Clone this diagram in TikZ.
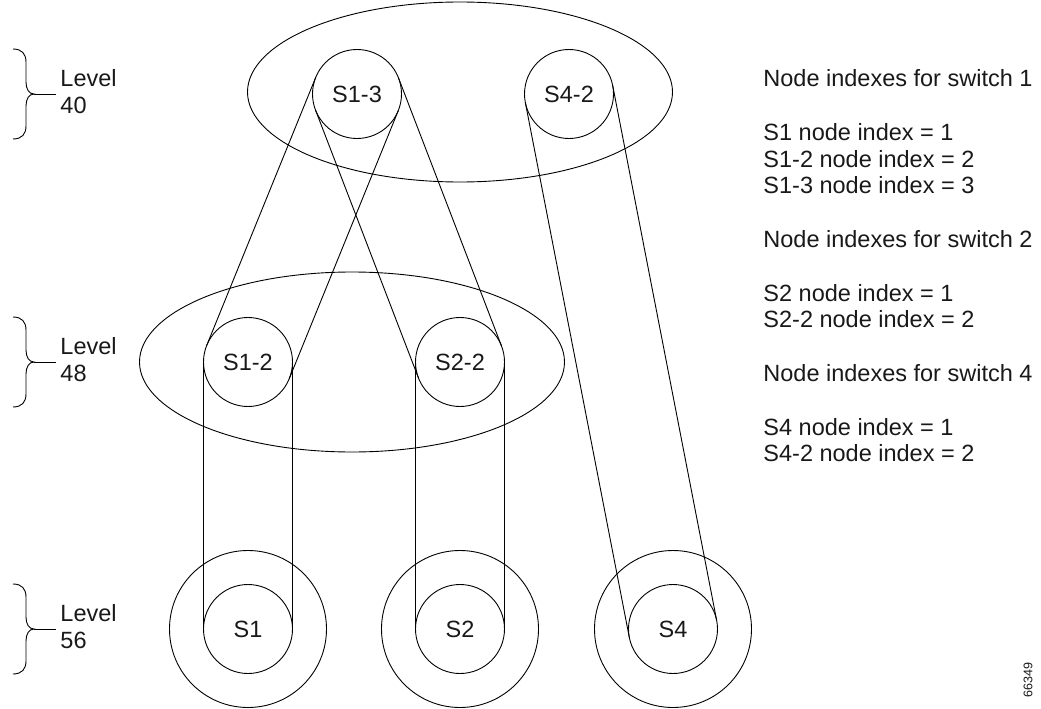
\documentclass[tikz,border=0pt]{standalone}
\usepackage{fontspec}
\setmainfont{Liberation Sans}
\usetikzlibrary{calc}
\newcommand\beltlines[3]{%
  \draw ($(#1)!#3!90:(#2)$) -- ($(#2)!#3!-90:(#1)$);
  \draw ($(#1)!#3!-90:(#2)$) -- ($(#2)!#3!90:(#1)$);}
\newcommand\levelbrace[1]{%
  \draw (13,#1-45) .. controls (22,#1-45) and (26,#1-40) .. (26,#1-32)
        -- (26,#1-12) .. controls (26,#1-5) and (29,#1) .. (34,#1)
        .. controls (29,#1) and (26,#1+5) .. (26,#1+12)
        -- (26,#1+32) .. controls (26,#1+40) and (22,#1+45) .. (13,#1+45);
  \draw (34,#1) -- (56,#1);}
\begin{document}
\begin{tikzpicture}[x=1pt,y=-1pt,line width=0.9pt,
  every node/.style={font=\fontsize{23.5}{27}\selectfont, text=black!90},
  sw/.style={circle, draw, minimum size=89pt, inner sep=0pt},
  ring/.style={circle, draw, minimum size=157pt, inner sep=0pt},
  info/.style={anchor=base west, inner sep=0pt},
  grp/.style={x radius=212.5pt, y radius=90pt}]
\useasboundingbox (0,0) rectangle (1041,709);

% group ellipses
\draw (460,92) ellipse [grp];
\draw (352,362) ellipse [grp];

% switch nodes
\node[sw] (s13) at (357,94) {S1-3};
\node[sw] (s42) at (569,94) {S4-2};
\node[sw] (s12) at (248,362) {S1-2};
\node[sw] (s22) at (460,362) {S2-2};
\node[sw] (s1) at (248,629) {S1};
\node[sw] (s2) at (460,629) {S2};
\node[sw] (s4) at (673,629) {S4};
\node[ring] (s1o) at (s1) {};
\node[ring] (s2o) at (s2) {};
\node[ring] (s4o) at (s4) {};

% belts
\beltlines{s13}{s12}{44.5pt}
\beltlines{s13}{s22}{44.5pt}
\beltlines{s42}{s4}{44.5pt}
\beltlines{s12}{s1}{44.5pt}
\beltlines{s22}{s2}{44.5pt}

% level braces
\levelbrace{94}
\levelbrace{362}
\levelbrace{629}
\node[info] (l40a) at (60,86.5) {Level};
\node[info] (l40b) at (60,113.5) {40};
\node[info] (l48a) at (60,354) {Level};
\node[info] (l48b) at (60,381) {48};
\node[info] (l56a) at (60,621) {Level};
\node[info] (l56b) at (60,648) {56};

% index list
\node[info] (t1) at (763,86.7) {Node indexes for switch 1};
\node[info] (t2) at (763,140.3) {S1 node index = 1};
\node[info] (t3) at (763,167.1) {S1-2 node index = 2};
\node[info] (t4) at (763,193.9) {S1-3 node index = 3};
\node[info] (t5) at (763,247.5) {Node indexes for switch 2};
\node[info] (t6) at (763,301.1) {S2 node index = 1};
\node[info] (t7) at (763,327.9) {S2-2 node index = 2};
\node[info] (t8) at (763,381.5) {Node indexes for switch 4};
\node[info] (t9) at (763,435.1) {S4 node index = 1};
\node[info] (t10) at (763,461.9) {S4-2 node index = 2};

\node[rotate=90, font=\fontsize{12.5}{14}\selectfont] (fig) at (1028,680) {66349};
\end{tikzpicture}
\end{document}
